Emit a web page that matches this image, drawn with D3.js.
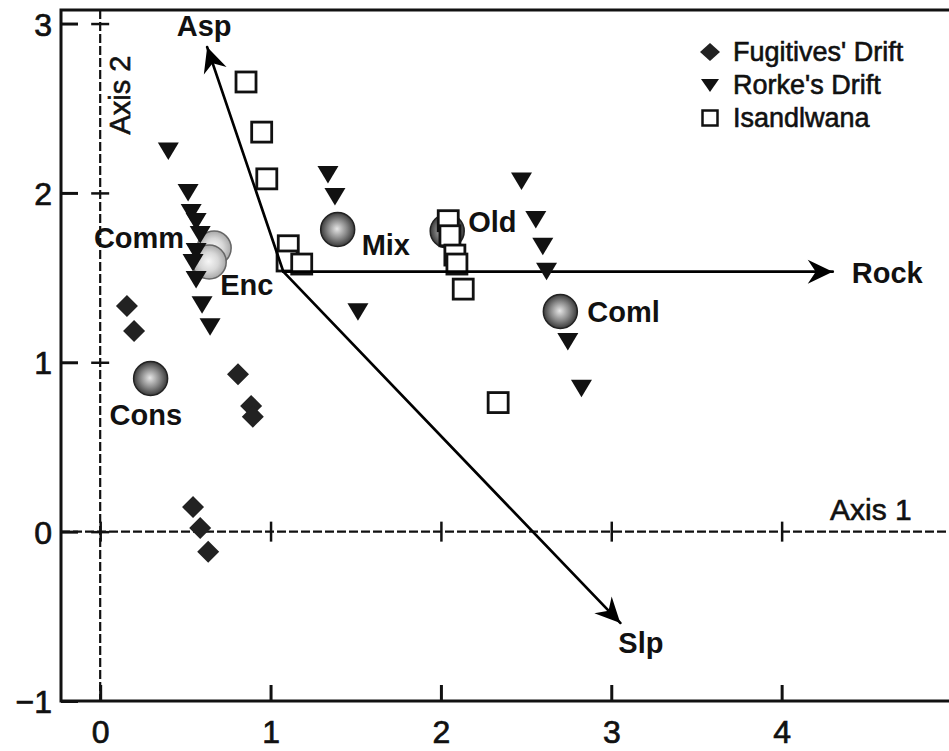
<!DOCTYPE html>
<html>
<head>
<meta charset="utf-8">
<script src="https://cdn.jsdelivr.net/npm/d3@7"></script>
<style>
  body { margin: 0; background: #fff; }
  svg { display: block; font-family: "Liberation Sans", Arial, sans-serif; }
</style>
</head>
<body>
<div id="chart"></div>
<script>
// ---- data (axis units) ----
var xTicks = [0, 1, 2, 3, 4];
var yTicks = [-1, 0, 1, 2, 3];

var fugitives = [[0.157,1.333],[0.199,1.185],[0.809,0.929],[0.886,0.742],[0.896,0.679],
                 [0.545,0.145],[0.587,0.022],[0.634,-0.119]];
var rorkes = [[0.40,2.25],[0.516,2.006],[0.534,1.888],[0.563,1.834],[0.587,1.757],[0.563,1.657],
              [0.545,1.592],[0.563,1.491],[0.598,1.343],[0.645,1.213],[1.337,2.112],[1.378,1.982],
              [1.513,1.302],[2.473,2.073],[2.557,1.846],[2.598,1.688],[2.620,1.540],[2.745,1.126],
              [2.825,0.850]];
var isandlwana = [[0.856,2.655],[0.948,2.359],[0.978,2.083],[1.104,1.688],[1.097,1.598],[1.183,1.580],
                  [2.043,1.836],[2.053,1.747],[2.082,1.633],[2.094,1.580],[2.131,1.432],[2.336,0.762]];

var centroidNames = ["Cons", "Comm", "Enc", "Mix", "Old", "Coml"];
var centroidX = [0.296, 0.669, 0.640, 1.394, 2.037, 2.701];
var centroidY = [0.904, 1.674, 1.592, 1.784, 1.775, 1.300];

var vectorOrigin = [1.075, 1.535];
var vectorNames = ["Asp", "Rock", "Slp"];
var vectorX = [0.628, 4.30, 3.053];
var vectorY = [2.861, 1.535, -0.539];

var legendNames = ["Fugitives' Drift", "Rorke's Drift", "Isandlwana"];

// ---- layout ----
var W = 949, H = 751;
var svg = d3.select("#chart").append("svg").attr("width", W).attr("height", H);

var x = d3.scaleLinear().domain([-0.23, 5]).range([61, 952]);
var y = d3.scaleLinear().domain([-1, 3.08]).range([701, 10]);

// label placement in pixels, relative to the point they name
var labelPos = {
  Cons: [-41, 46, "start"], Comm: [-30, 0, "end"], Enc: [11, 33, "start"],
  Mix: [24, 26, "start"], Old: [21, 1, "start"], Coml: [27, 11, "start"],
  Asp: [-3, -11, "middle"], Rock: [19, 11, "start"], Slp: [-2, 30, "start"]
};

var defs = svg.append("defs");
function grad(id, c0, c1, c2) {
  var g = defs.append("radialGradient").attr("id", id)
    .attr("cx", "50%").attr("cy", "50%").attr("r", "50%").attr("fx", "48%").attr("fy", "48%");
  g.append("stop").attr("offset", "0%").attr("stop-color", c0);
  g.append("stop").attr("offset", "55%").attr("stop-color", c1);
  g.append("stop").attr("offset", "100%").attr("stop-color", c2);
}
grad("ball", "#e6e6e6", "#8a8a8a", "#3a3a3a");
grad("ballLight", "#f6f6f6", "#d8d8d8", "#a8a8a8");

defs.append("marker").attr("id", "head")
  .attr("markerUnits", "userSpaceOnUse")
  .attr("viewBox", "-26 -13 27 26")
  .attr("markerWidth", 27).attr("markerHeight", 26)
  .attr("refX", 0).attr("refY", 0).attr("orient", "auto")
  .append("path").attr("d", "M0,0L-25,-12L-17,0L-25,12Z").attr("fill", "#000");

// ---- dashed zero lines with cross ticks ----
svg.append("line")
  .attr("x1", x.range()[0]).attr("x2", x.range()[1])
  .attr("y1", y(0)).attr("y2", y(0))
  .attr("stroke", "#111").attr("stroke-width", 2.4).attr("stroke-dasharray", "9,3");
svg.append("line")
  .attr("x1", x(0)).attr("x2", x(0))
  .attr("y1", y.range()[1]).attr("y2", y.range()[0])
  .attr("stroke", "#111").attr("stroke-width", 2.2).attr("stroke-dasharray", "9,3");

var crossX = svg.append("g").attr("transform", "translate(0," + (y(0) - 10) + ")")
  .call(d3.axisBottom(x).tickValues(xTicks).tickSize(20).tickFormat(""));
var crossY = svg.append("g").attr("transform", "translate(" + (x(0) + 9) + ",0)")
  .call(d3.axisLeft(y).tickValues([0, 1, 2, 3]).tickSize(18).tickFormat(""));
[crossX, crossY].forEach(function(g) {
  g.select(".domain").remove();
  g.selectAll(".tick line").attr("stroke", "#111").attr("stroke-width", 2.5);
});

// ---- frame + axes ----
svg.append("rect")
  .attr("x", x.range()[0]).attr("y", y.range()[1])
  .attr("width", x.range()[1] - x.range()[0])
  .attr("height", y.range()[0] - y.range()[1])
  .attr("fill", "none").attr("stroke", "#111").attr("stroke-width", 3);

var xAxis = svg.append("g").attr("transform", "translate(0," + y.range()[0] + ")")
  .call(d3.axisBottom(x).tickValues(xTicks).tickSize(-16).tickPadding(19).tickFormat(d3.format("d")));
var yAxis = svg.append("g").attr("transform", "translate(" + x.range()[0] + ",0)")
  .call(d3.axisLeft(y).tickValues(yTicks).tickSize(-17).tickPadding(9)
    .tickFormat(function(d) { return d < 0 ? "\u2212" + Math.abs(d) : d; }));
[xAxis, yAxis].forEach(function(g) {
  g.select(".domain").remove();
  g.attr("font-family", null).attr("font-size", null);
  g.selectAll(".tick line").attr("stroke", "#111").attr("stroke-width", 3);
  g.selectAll(".tick text").attr("fill", "#111").attr("stroke", "#111").attr("stroke-width", 0.7)
    .style("font-size", "32px");
});
yAxis.selectAll(".tick text").attr("dy", "0.36em");

svg.append("text").attr("x", 830).attr("y", 520)
  .style("font-size", "30px").attr("fill", "#111").attr("stroke", "#111").attr("stroke-width", 0.6)
  .text("Axis 1");
svg.append("text")
  .attr("transform", "translate(130,95) rotate(-90)")
  .attr("text-anchor", "middle")
  .style("font-size", "29px").attr("fill", "#111").attr("stroke", "#111").attr("stroke-width", 0.6)
  .text("Axis 2");

// ---- centroids ----
var centroids = centroidNames.map(function(n, i) { return { name: n, x: centroidX[i], y: centroidY[i] }; });
var lightOnes = ["Comm", "Enc"];
svg.append("g").selectAll("circle").data(centroids).join("circle")
  .attr("cx", function(d) { return x(d.x); })
  .attr("cy", function(d) { return y(d.y); })
  .attr("r", 17)
  .attr("fill", function(d) { return lightOnes.indexOf(d.name) >= 0 ? "url(#ballLight)" : "url(#ball)"; })
  .attr("stroke", function(d) { return lightOnes.indexOf(d.name) >= 0 ? "#666" : "#222"; })
  .attr("stroke-width", 1.5);

// ---- Isandlwana squares ----
svg.append("g").selectAll("rect").data(isandlwana).join("rect")
  .attr("x", function(d) { return x(d[0]) - 10; })
  .attr("y", function(d) { return y(d[1]) - 10; })
  .attr("width", 20).attr("height", 20)
  .attr("fill", "#fff").attr("stroke", "#111").attr("stroke-width", 2.8);

// ---- biplot vectors ----
var vectors = vectorNames.map(function(n, i) { return { name: n, x: vectorX[i], y: vectorY[i] }; });
svg.append("g").selectAll("line").data(vectors).join("line")
  .attr("x1", x(vectorOrigin[0])).attr("y1", y(vectorOrigin[1]))
  .attr("x2", function(d) { return x(d.x); })
  .attr("y2", function(d) { return y(d.y); })
  .attr("stroke", "#000").attr("stroke-width", 2.7).attr("stroke-linecap", "round")
  .attr("marker-end", "url(#head)");

// ---- Rorke's Drift triangles & Fugitives' Drift diamonds ----
var triPath = "M-10.5,-8L10.5,-8L0,9.5Z";
var diaPath = "M0,-11L11,0L0,11L-11,0Z";
svg.append("g").selectAll("path").data(rorkes).join("path")
  .attr("transform", function(d) { return "translate(" + x(d[0]) + "," + y(d[1]) + ")"; })
  .attr("d", triPath).attr("fill", "#111");
svg.append("g").selectAll("path").data(fugitives).join("path")
  .attr("transform", function(d) { return "translate(" + x(d[0]) + "," + y(d[1]) + ")"; })
  .attr("d", diaPath).attr("fill", "#222");

// ---- labels ----
var labelled = centroids.concat(vectors);
svg.append("g").selectAll("text").data(labelled).join("text")
  .attr("x", function(d) { return x(d.x) + labelPos[d.name][0]; })
  .attr("y", function(d) { return y(d.y) + labelPos[d.name][1]; })
  .attr("text-anchor", function(d) { return labelPos[d.name][2]; })
  .style("font-size", "29px").style("font-weight", "bold").attr("fill", "#111")
  .text(function(d) { return d.name; });

// ---- legend ----
var legendShapes = [
  { d: "M0,-9L10,0L0,9L-10,0Z", fill: "#222", stroke: "none" },
  { d: "M-9,-6L9,-6L0,7Z", fill: "#111", stroke: "none" },
  { d: "M-7.5,-7.5H7.5V7.5H-7.5Z", fill: "#fff", stroke: "#111" }
];
var legend = svg.append("g").attr("transform", "translate(710,52)");
var rows = legend.selectAll("g").data(legendNames).join("g")
  .attr("transform", function(d, i) { return "translate(0," + i * 33 + ")"; });
rows.append("path")
  .attr("d", function(d, i) { return legendShapes[i].d; })
  .attr("fill", function(d, i) { return legendShapes[i].fill; })
  .attr("stroke", function(d, i) { return legendShapes[i].stroke; })
  .attr("stroke-width", 2.5);
rows.append("text").attr("x", 23).attr("y", 9)
  .style("font-size", "27px").attr("fill", "#111").attr("stroke", "#111").attr("stroke-width", 0.6)
  .text(function(d) { return d; });
</script>
</body>
</html>
